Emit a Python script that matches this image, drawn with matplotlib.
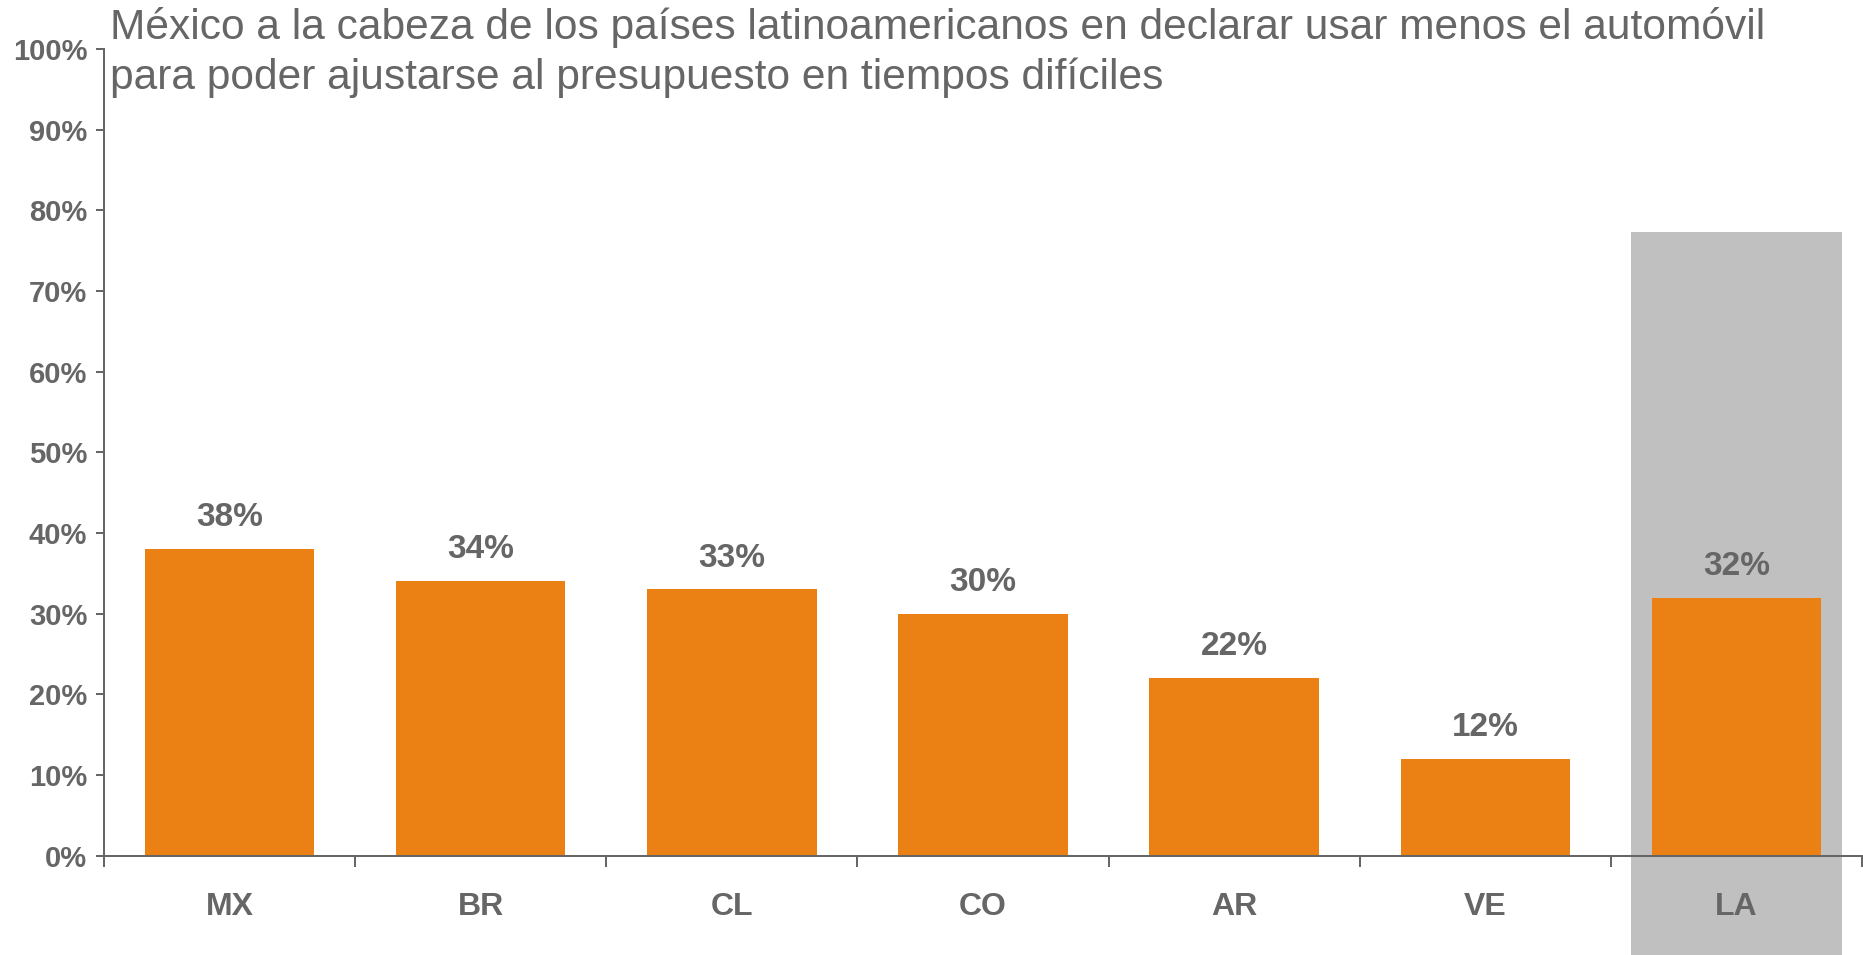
import matplotlib
matplotlib.use("Agg")
import matplotlib.pyplot as plt
import numpy as np

categories = ["MX", "BR", "CL", "CO", "AR", "VE", "LA"]
values = [38, 34, 33, 30, 22, 12, 32]
highlight_value = 77.3  # height of the shaded band behind the regional total
yticks = [0, 10, 20, 30, 40, 50, 60, 70, 80, 90, 100]
title = ("México a la cabeza de los países latinoamericanos en declarar usar menos el automóvil\n"
         "para poder ajustarse al presupuesto en tiempos difíciles")

TEXT = "#666666"
ORANGE = "#EB8014"
BAND = "#C0C0C0"

plt.rcParams["font.family"] = ["Liberation Sans", "DejaVu Sans"]

fig = plt.figure(figsize=(18.63, 9.55), dpi=100)
ax = fig.add_axes([0.0558, 0.104, 0.9437, 0.8447])

x = np.arange(len(categories))

# shaded band behind the regional total, running below the axis to the figure edge
ax.bar(x[-1], highlight_value + 20, bottom=-20, width=0.837, color=BAND,
       clip_on=False, zorder=0)

bars = ax.bar(x, values, width=0.675, color=ORANGE, zorder=2)

for xi, v in zip(x, values):
    ax.annotate(f"{v}%", (xi, v), xytext=(0, 16.5), textcoords="offset points",
                ha="center", va="baseline", fontsize=24, fontweight="bold",
                color=TEXT)

ax.set_xlim(-0.5, len(categories) - 0.5)
ax.set_ylim(0, 100)

ax.set_yticks(yticks)
ax.set_yticklabels([f"{t}%" for t in yticks], fontsize=21, fontweight="bold",
                   color=TEXT)
ax.tick_params(axis="y", length=5.8, width=1.44, color=TEXT, pad=6.3)

# category boundaries carry the ticks; labels sit at the bar centres
ax.set_xticks(np.arange(len(categories) + 1) - 0.5)
ax.set_xticklabels([])
ax.tick_params(axis="x", which="major", length=8, width=1.44, color=TEXT,
               direction="out")
ax.set_xticks(x, minor=True)
ax.set_xticklabels(categories, minor=True, fontsize=23, fontweight="bold",
                   color=TEXT)
ax.tick_params(axis="x", which="minor", length=0, pad=26.5)

for side in ("top", "right"):
    ax.spines[side].set_visible(False)
for side in ("left", "bottom"):
    ax.spines[side].set_color(TEXT)
    ax.spines[side].set_linewidth(1.44)
ax.spines["bottom"].set_zorder(3)

fig.text(0.059, 0.993, title, ha="left", va="top", fontsize=30.6,
         color=TEXT, linespacing=1.3)

fig.savefig("out.png", dpi=100)
